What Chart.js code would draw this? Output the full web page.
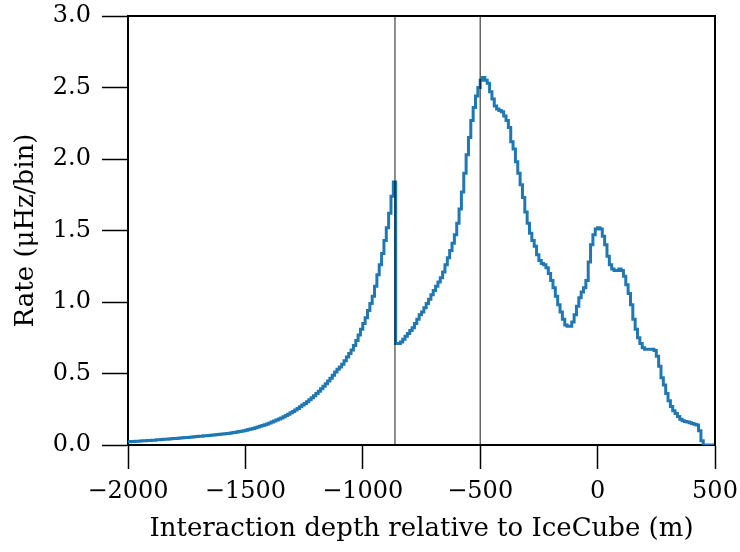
<!DOCTYPE html>
<html>
<head>
<meta charset="utf-8">
<script src="https://cdn.jsdelivr.net/npm/chart.js@4/dist/chart.umd.min.js"></script>
<style>
html, body { margin: 0; padding: 0; background: #ffffff; }
#wrap { width: 740px; height: 552px; }
</style>
</head>
<body>
<div id="wrap"><canvas id="rateChart" width="740" height="552"></canvas></div>
<script>
// 10 m bins: left edge of the first bin, bin width, rate per bin (uHz/bin)
const firstEdge = -2000;
const binWidth = 10;
const rates = [
  // -2000 .. -1510
  0.023, 0.024, 0.025, 0.026, 0.027, 0.028, 0.029, 0.030, 0.031, 0.032,
  0.033, 0.034, 0.036, 0.037, 0.039, 0.040, 0.041, 0.042, 0.044, 0.045,
  0.046, 0.048, 0.049, 0.051, 0.052, 0.053, 0.055, 0.056, 0.058, 0.059,
  0.061, 0.062, 0.064, 0.065, 0.067, 0.069, 0.070, 0.072, 0.074, 0.076,
  0.077, 0.079, 0.081, 0.083, 0.086, 0.088, 0.091, 0.094, 0.097, 0.100,
  // -1500 .. -1010
  0.104, 0.108, 0.112, 0.116, 0.121, 0.126, 0.131, 0.136, 0.141, 0.147,
  0.153, 0.160, 0.167, 0.174, 0.181, 0.189, 0.197, 0.206, 0.215, 0.225,
  0.235, 0.245, 0.256, 0.267, 0.279, 0.291, 0.303, 0.316, 0.330, 0.345,
  0.360, 0.376, 0.393, 0.410, 0.428, 0.447, 0.467, 0.488, 0.510, 0.530,
  0.545, 0.565, 0.590, 0.615, 0.640, 0.665, 0.695, 0.730, 0.770, 0.810,
  // -1000 .. -510
  0.850, 0.890, 0.940, 0.990, 1.040, 1.110, 1.190, 1.260, 1.340, 1.430,
  1.520, 1.620, 1.740, 1.840, 0.710, 0.710, 0.720, 0.740, 0.760, 0.780,
  0.800, 0.820, 0.850, 0.880, 0.910, 0.930, 0.960, 0.990, 1.020, 1.050,
  1.080, 1.110, 1.140, 1.170, 1.210, 1.260, 1.310, 1.360, 1.410, 1.470,
  1.550, 1.650, 1.770, 1.900, 2.030, 2.150, 2.270, 2.360, 2.440, 2.500,
  // -500 .. -10
  2.550, 2.570, 2.550, 2.530, 2.470, 2.420, 2.370, 2.350, 2.340, 2.330,
  2.300, 2.270, 2.220, 2.120, 2.070, 1.980, 1.900, 1.820, 1.730, 1.630,
  1.550, 1.480, 1.430, 1.390, 1.330, 1.290, 1.270, 1.260, 1.240, 1.200,
  1.150, 1.100, 1.040, 0.980, 0.930, 0.880, 0.840, 0.830, 0.830, 0.860,
  0.910, 0.970, 1.030, 1.070, 1.100, 1.150, 1.280, 1.400, 1.470, 1.510,
  // 0 .. 490
  1.520, 1.510, 1.460, 1.400, 1.320, 1.260, 1.230, 1.220, 1.220, 1.230,
  1.220, 1.180, 1.120, 1.060, 0.980, 0.880, 0.810, 0.750, 0.710, 0.680,
  0.670, 0.670, 0.670, 0.670, 0.660, 0.620, 0.550, 0.470, 0.420, 0.360,
  0.310, 0.270, 0.240, 0.220, 0.200, 0.180, 0.170, 0.165, 0.160, 0.155,
  0.150, 0.145, 0.140, 0.100, 0.030, 0.000, 0.000, 0.000, 0.000, 0.000
];
const markerDepths = [-863, -500];   // vertical reference lines
const xTicks = [-2000, -1500, -1000, -500, 0, 500];
const yTicks = [0.0, 0.5, 1.0, 1.5, 2.0, 2.5, 3.0];

const serif = "'DejaVu Serif', 'Liberation Serif', serif";

// step histogram: each bin value held from its left edge, closed at 500
const histData = rates.map((r, i) => ({ x: firstEdge + i * binWidth, y: r }));
histData.push({ x: firstEdge + rates.length * binWidth, y: rates[rates.length - 1] });

const markerSets = markerDepths.map(d => ({
    type: 'line',
    data: [{ x: d, y: 0 }, { x: d, y: 3 }],
    borderColor: 'rgba(0,0,0,0.75)',
    borderWidth: 1.2,
    pointRadius: 0,
    fill: false,
    order: 0
}));

// top + right spines
const framePlugin = {
    id: 'frame',
    afterDraw(chart) {
        const { ctx, chartArea: a } = chart;
        ctx.save();
        ctx.strokeStyle = '#000';
        ctx.lineWidth = 2;
        ctx.beginPath();
        ctx.moveTo(a.left, a.top);
        ctx.lineTo(a.right, a.top);
        ctx.lineTo(a.right, a.bottom);
        ctx.stroke();
        ctx.restore();
    }
};

new Chart(document.getElementById('rateChart').getContext('2d'), {
    type: 'line',
    data: {
        datasets: [{
            data: histData,
            stepped: true,
            borderColor: '#1f77b4',
            borderWidth: 3,
            pointRadius: 0,
            fill: false,
            order: 1
        }, ...markerSets]
    },
    options: {
        responsive: false,
        animation: false,
        layout: { padding: { top: 16, right: 25, left: 0, bottom: 0 } },
        plugins: { legend: { display: false }, tooltip: { enabled: false } },
        scales: {
            x: {
                type: 'linear',
                min: -2000,
                max: 500,
                afterFit(scale) {
                    scale.height = 107;
                    scale.paddingLeft = 0;
                    scale.paddingRight = 0;
                },
                afterBuildTicks(scale) { scale.ticks = xTicks.map(v => ({ value: v })); },
                border: { display: true, color: '#000', width: 2 },
                grid: { drawOnChartArea: false, drawTicks: true, tickLength: 24, tickColor: '#000', tickWidth: 1.5 },
                ticks: {
                    color: '#000',
                    padding: 8,
                    maxRotation: 0,
                    font: { family: serif, size: 24 },
                    callback: v => String(v).replace('-', '\u2212')
                },
                title: {
                    display: true,
                    text: 'Interaction depth relative to IceCube (m)',
                    color: '#000',
                    font: { family: serif, size: 26 },
                    padding: { top: 0, bottom: 7 }
                }
            },
            y: {
                type: 'linear',
                min: 0,
                max: 3,
                afterFit(scale) {
                    scale.width = 128;
                    scale.paddingTop = 0;
                    scale.paddingBottom = 0;
                },
                afterBuildTicks(scale) { scale.ticks = yTicks.map(v => ({ value: v })); },
                border: { display: true, color: '#000', width: 2 },
                grid: { drawOnChartArea: false, drawTicks: true, tickLength: 26, tickColor: '#000', tickWidth: 1.5 },
                ticks: {
                    color: '#000',
                    padding: 11,
                    font: { family: serif, size: 24 },
                    callback: v => v.toFixed(1)
                },
                title: {
                    display: true,
                    text: 'Rate (\u03BCHz/bin)',
                    color: '#000',
                    font: { family: serif, size: 26 },
                    padding: { top: 11, bottom: 0 }
                }
            }
        }
    },
    plugins: [framePlugin]
});
</script>
</body>
</html>
